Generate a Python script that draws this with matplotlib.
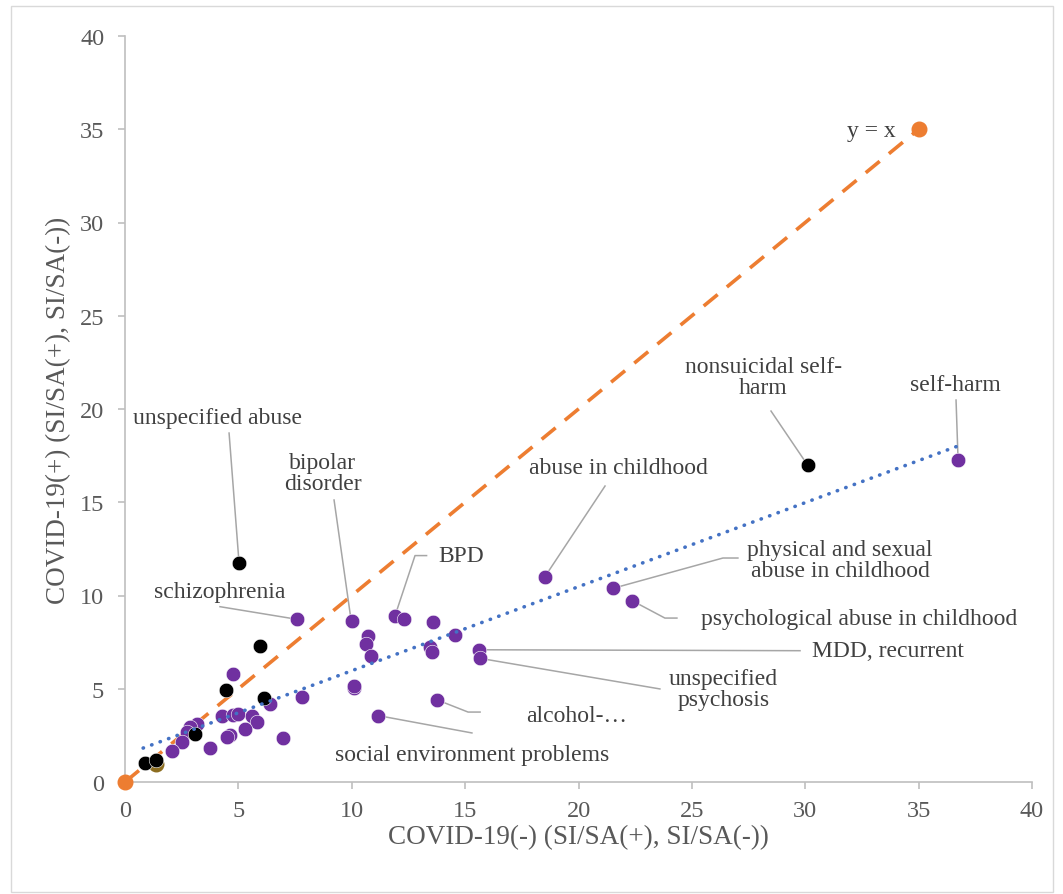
import matplotlib
matplotlib.use("Agg")
import matplotlib.pyplot as plt
from matplotlib.patches import Rectangle

plt.rcParams["font.family"] = ["Liberation Serif", "DejaVu Serif"]

# ── data ────────────────────────────────────────────────────────────────────
purple_x = [7.57, 10.03, 11.91, 12.30, 13.57, 10.73, 10.61, 10.83, 14.55, 13.45,
            13.52, 15.63, 15.66, 13.77, 11.17, 10.11, 10.08, 4.78, 7.79, 6.39,
            4.26, 4.78, 5.00, 5.59, 5.81, 5.29, 4.63, 4.51, 6.98, 3.75,
            3.16, 2.87, 2.72, 2.50, 2.06, 18.52, 21.51, 22.37, 36.74]
purple_y = [8.74, 8.65, 8.92, 8.74, 8.56, 7.81, 7.40, 6.77, 7.88, 7.22,
            6.95, 7.09, 6.63, 4.40, 3.56, 5.02, 5.15, 5.79, 4.54, 4.18,
            3.56, 3.59, 3.65, 3.56, 3.23, 2.84, 2.52, 2.40, 2.36, 1.81,
            3.11, 2.95, 2.66, 2.13, 1.68, 11.01, 10.38, 9.72, 17.27]

black_x = [5.03, 30.10, 5.95, 4.45, 6.13, 3.09, 0.90, 1.35]
black_y = [11.74, 17.00, 7.30, 4.93, 4.50, 2.57, 1.00, 1.20]

gold_x = [1.35]
gold_y = [0.95]

identity_x = [0, 35]
identity_y = [0, 35]

trend_x = [0.80, 36.70]
trend_y = [1.82, 18.00]

# label text, text position, leader-line path (data units)
annotations = [
    ("unspecified abuse", (4.10, 19.57), [(4.59, 18.71), (5.03, 11.74)]),
    ("bipolar\ndisorder", (8.73, 16.57), [(9.22, 15.12), (9.95, 8.85)]),
    ("schizophrenia", (4.17, 10.24), [(4.19, 9.40), (7.50, 8.74)]),
    ("BPD", (14.85, 12.14), [(11.91, 8.92), (12.79, 12.14), (13.30, 12.14)]),
    ("abuse in childhood", (21.74, 16.84), [(21.17, 15.87), (18.52, 11.01)]),
    ("nonsuicidal self-\nharm", (28.14, 21.70), [(28.49, 19.89), (30.10, 17.00)]),
    ("self-harm", (36.64, 21.34), [(36.65, 20.48), (36.74, 17.27)]),
    ("physical and sexual\nabuse in childhood", (31.53, 11.93),
     [(21.51, 10.38), (26.37, 12.01), (27.03, 12.01)]),
    ("psychological abuse in childhood", (32.37, 8.79),
     [(22.37, 9.72), (23.81, 8.79), (24.34, 8.79)]),
    ("MDD, recurrent", (33.63, 7.04), [(15.63, 7.09), (29.77, 7.04)]),
    ("unspecified\npsychosis", (26.39, 4.99), [(15.66, 6.63), (23.59, 4.99)]),
    ("alcohol-…", (19.93, 3.59), [(13.77, 4.40), (15.13, 3.75), (15.66, 3.75)]),
    ("social environment problems", (15.30, 1.45), [(11.17, 3.56), (15.30, 2.63)]),
]

# ── styles ──────────────────────────────────────────────────────────────────
C_PURPLE = "#7030A0"
C_ORANGE = "#ED7D31"
C_BLUE = "#4472C4"
C_AXIS = "#BFBFBF"
C_TICK = "#595959"
C_TEXT = "#404040"
C_LEADER = "#A6A6A6"
FS_LABEL = 17

fig = plt.figure(figsize=(10.63, 8.95), dpi=100)
fig.patch.set_facecolor("white")
fig.patches.append(Rectangle((11 / 1063, 2 / 895), 1042 / 1063, 886 / 895,
                             transform=fig.transFigure, fill=False,
                             ec="#D9D9D9", lw=1.0))

ax = fig.add_axes([125 / 1063, 1 - 783 / 895, 907 / 1063, 746 / 895])
ax.set_xlim(0, 40)
ax.set_ylim(0, 40)
ax.set_xticks(range(0, 41, 5))
ax.set_yticks(range(0, 41, 5))

for side in ("top", "right"):
    ax.spines[side].set_visible(False)
for side in ("left", "bottom"):
    ax.spines[side].set_color(C_AXIS)
    ax.spines[side].set_linewidth(1.2)
ax.tick_params(axis="both", colors=C_AXIS, labelcolor=C_TICK, length=5,
               width=1.2, labelsize=17.5)
ax.tick_params(axis="x", pad=8)
ax.tick_params(axis="y", pad=10)

# lines
ax.plot(identity_x, identity_y, color=C_ORANGE, lw=2.6,
        linestyle=(0, (5, 3.3)), zorder=2)
ax.plot(identity_x, identity_y, "o", color=C_ORANGE, ms=10.5, zorder=4,
        clip_on=False)
ax.plot(trend_x, trend_y, color=C_BLUE, lw=2.6, linestyle=(0, (0.1, 2.4)),
        dash_capstyle="round", zorder=5)

# points
ax.scatter(purple_x, purple_y, s=110, color=C_PURPLE, edgecolor="white",
           linewidth=0.4, zorder=3)
ax.scatter(gold_x, gold_y, s=110, color="#8C6D1F", zorder=3)
ax.scatter(black_x, black_y, s=110, color="black", edgecolor="white",
           linewidth=0.4, zorder=3)

# labels + leader lines
for text, (tx, ty), path in annotations:
    xs = [p[0] for p in path]
    ys = [p[1] for p in path]
    ax.plot(xs, ys, color=C_LEADER, lw=1.1, zorder=2.5)
    ax.text(tx, ty, text, ha="center", va="center", fontsize=FS_LABEL,
            color=C_TEXT, linespacing=1.0, zorder=6)

ax.text(32.93, 34.92, "y = x", ha="center", va="center", fontsize=FS_LABEL,
        color=C_TEXT, zorder=6)

ax.set_xlabel("COVID-19(-) (SI/SA(+), SI/SA(-))", fontsize=19.5, color=C_TICK,
              labelpad=2)
ax.set_ylabel("COVID-19(+) (SI/SA(+), SI/SA(-))", fontsize=19.5, color=C_TICK,
              labelpad=6)

fig.savefig("out.png", dpi=100)
